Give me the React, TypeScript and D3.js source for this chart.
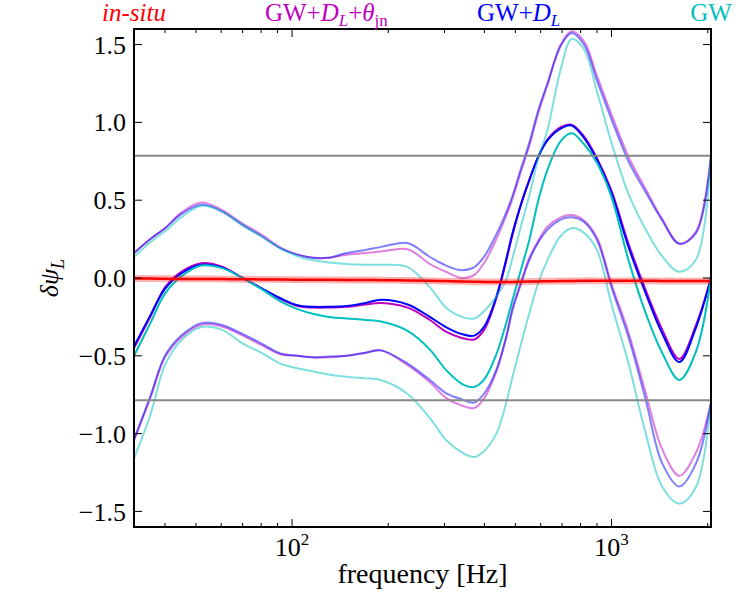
import React from 'react';
import * as d3 from 'd3';

// frequency grid (Hz) shared by every curve
const freq = [32, 36, 40, 45, 52, 60, 70, 80, 92, 104, 116, 130, 148, 170, 190, 230, 270, 303, 340, 372,
  400, 436, 468, 490, 520, 553, 590, 630, 693, 750, 820, 900, 1000, 1130, 1280, 1440, 1630, 1840, 2048];

// medians
const medThetaJN = [-0.45, -0.25, -0.06, 0.04, 0.095, 0.075, 0.0, -0.065, -0.135, -0.18, -0.19, -0.19, -0.185, -0.17, -0.16, -0.19, -0.27, -0.345, -0.385, -0.395,
  -0.33, -0.13, 0.11, 0.28, 0.47, 0.63, 0.78, 0.89, 0.97, 0.985, 0.91, 0.77, 0.56, 0.22, -0.08, -0.33, -0.52, -0.3, 0.0];
const medDL = [-0.44, -0.24, -0.07, 0.03, 0.085, 0.07, 0.0, -0.065, -0.13, -0.175, -0.185, -0.185, -0.18, -0.16, -0.14, -0.17, -0.25, -0.315, -0.36, -0.37,
  -0.31, -0.12, 0.12, 0.29, 0.47, 0.63, 0.78, 0.885, 0.96, 0.98, 0.9, 0.76, 0.545, 0.2, -0.1, -0.355, -0.54, -0.315, 0.0];
const medGW = [-0.5, -0.29, -0.1, 0.01, 0.08, 0.065, 0.0, -0.07, -0.15, -0.2, -0.23, -0.25, -0.26, -0.27, -0.28, -0.34, -0.46, -0.59, -0.68, -0.7,
  -0.65, -0.49, -0.29, -0.14, 0.05, 0.245, 0.5, 0.695, 0.88, 0.93, 0.86, 0.74, 0.52, 0.115, -0.227, -0.48, -0.655, -0.47, 0.0];

// upper bounds
const upThetaJN = [0.16, 0.25, 0.32, 0.42, 0.485, 0.44, 0.35, 0.28, 0.195, 0.15, 0.13, 0.13, 0.15, 0.16, 0.17, 0.185, 0.09, 0.04, 0.0, 0.02,
  0.1, 0.25, 0.4, 0.51, 0.68, 0.85, 1.06, 1.24, 1.5, 1.585, 1.52, 1.3, 1.05, 0.78, 0.57, 0.38, 0.22, 0.3, 0.785];
const upDL = [0.16, 0.25, 0.32, 0.41, 0.47, 0.43, 0.34, 0.27, 0.19, 0.15, 0.13, 0.13, 0.16, 0.18, 0.2, 0.225, 0.135, 0.08, 0.05, 0.07,
  0.14, 0.28, 0.42, 0.53, 0.7, 0.87, 1.08, 1.25, 1.49, 1.575, 1.5, 1.27, 1.02, 0.75, 0.55, 0.37, 0.22, 0.29, 0.785];
const upGW = [0.135, 0.23, 0.3, 0.39, 0.465, 0.43, 0.34, 0.27, 0.19, 0.14, 0.115, 0.1, 0.09, 0.085, 0.085, 0.07, -0.06, -0.19, -0.25, -0.26,
  -0.21, -0.12, -0.01, 0.13, 0.33, 0.53, 0.77, 0.95, 1.34, 1.535, 1.47, 1.2, 0.87, 0.54, 0.31, 0.14, 0.04, 0.12, 0.785];

// lower bounds
const loThetaJN = [-1.04, -0.77, -0.51, -0.38, -0.3, -0.31, -0.37, -0.43, -0.49, -0.5, -0.51, -0.51, -0.5, -0.48, -0.465, -0.56, -0.67, -0.77, -0.82, -0.835,
  -0.77, -0.6, -0.38, -0.19, -0.03, 0.13, 0.24, 0.33, 0.39, 0.405, 0.37, 0.26, -0.04, -0.35, -0.74, -1.1, -1.27, -1.12, -0.8];
const loDL = [-1.04, -0.76, -0.5, -0.37, -0.29, -0.3, -0.36, -0.42, -0.485, -0.5, -0.51, -0.505, -0.5, -0.48, -0.465, -0.55, -0.655, -0.74, -0.78, -0.8,
  -0.74, -0.59, -0.38, -0.205, -0.04, 0.115, 0.23, 0.31, 0.375, 0.39, 0.36, 0.245, -0.06, -0.38, -0.785, -1.19, -1.34, -1.19, -0.8];
const loGW = [-1.16, -0.88, -0.56, -0.4, -0.315, -0.33, -0.42, -0.48, -0.55, -0.58, -0.6, -0.62, -0.635, -0.645, -0.655, -0.745, -0.9, -1.04, -1.12, -1.15,
  -1.11, -1.0, -0.8, -0.635, -0.43, -0.225, -0.03, 0.115, 0.27, 0.32, 0.29, 0.18, -0.17, -0.55, -1.0, -1.34, -1.45, -1.34, -0.8];

// in-situ phase error and its spread
const inSitu = [-0.003, -0.004, -0.005, -0.006, -0.006, -0.007, -0.008, -0.009, -0.01, -0.011, -0.012, -0.012, -0.013, -0.013, -0.014, -0.016, -0.018, -0.02, -0.022, -0.024,
  -0.025, -0.025, -0.025, -0.025, -0.024, -0.023, -0.022, -0.021, -0.02, -0.019, -0.018, -0.018, -0.018, -0.018, -0.018, -0.019, -0.02, -0.02, -0.02];
const inSituSpread = 0.022;

const phaseLimits = [0.785, -0.785];
const yTicks = [-1.5, -1.0, -0.5, 0.0, 0.5, 1.0, 1.5];
const xMajor = [100, 1000];
const xMajorExp = ['2', '3'];
const xMinor = [40, 50, 60, 70, 80, 90, 200, 300, 400, 500, 600, 700, 800, 900, 2000];

const titles = ['in-situ', 'GW+DL+θjn', 'GW+DL', 'GW'];

const FONT = '"Liberation Serif", "Times New Roman", serif';

export default function App() {
  const left = 134, right = 711, top = 29, bottom = 527;
  const x = d3.scaleLog().domain([32, 2048]).range([left, right]);
  const y = d3.scaleLinear().domain([-1.6, 1.6]).range([bottom, top]);

  const line = d3.line<number>()
    .x((_, i) => x(freq[i]))
    .y(d => y(d))
    .curve(d3.curveCatmullRom.alpha(0.5));
  const band = d3.area<number>()
    .x((_, i) => x(freq[i]))
    .y0(d => y(d - inSituSpread))
    .y1(d => y(d + inSituSpread))
    .curve(d3.curveCatmullRom.alpha(0.5));

  const groups = [
    { color: '#bf00bf', med: medThetaJN, up: upThetaJN, lo: loThetaJN },
    { color: '#0000ff', med: medDL, up: upDL, lo: loDL },
    { color: '#00bfbf', med: medGW, up: upGW, lo: loGW },
  ];

  const third = (right - left) / 3;
  const tx = [left, left + third, left + 2 * third, right];

  return (
    <svg width={750} height={600} style={{ position: 'absolute', left: 0, top: 0, background: '#fff' }}
      fontFamily={FONT}>
      <defs>
        <clipPath id="plot">
          <rect x={left} y={top} width={right - left} height={bottom - top} />
        </clipPath>
      </defs>

      <g clipPath="url(#plot)">
        {groups.map((g, k) => (
          <g key={k} fill="none">
            <path d={line(g.up) || ''} stroke={g.color} strokeOpacity={0.5} strokeWidth={2} />
            <path d={line(g.lo) || ''} stroke={g.color} strokeOpacity={0.5} strokeWidth={2} />
            <path d={line(g.med) || ''} stroke={g.color} strokeWidth={2} />
          </g>
        ))}
        {phaseLimits.map(v => (
          <line key={v} x1={left} x2={right} y1={y(v)} y2={y(v)} stroke="#888" strokeWidth={2} />
        ))}
        <path d={band(inSitu) || ''} fill="#ff0000" fillOpacity={0.3} />
        <path d={line(inSitu) || ''} fill="none" stroke="#ff0000" strokeWidth={2.5} />
      </g>

      {/* frame */}
      <rect x={left} y={top} width={right - left} height={bottom - top} fill="none" stroke="#000" strokeWidth={2} />

      {/* y ticks */}
      {yTicks.map(t => (
        <g key={t}>
          <line x1={left} x2={left + 8} y1={y(t)} y2={y(t)} stroke="#000" strokeWidth={1} />
          <line x1={right} x2={right - 8} y1={y(t)} y2={y(t)} stroke="#000" strokeWidth={1} />
          <text x={left - 8} y={y(t)} dy="0.35em" textAnchor="end" fontSize={26}>
            {(t < 0 ? '\u2212' : '') + Math.abs(t).toFixed(1)}
          </text>
        </g>
      ))}

      {/* x ticks */}
      {xMajor.map((t, i) => (
        <g key={t}>
          <line x1={x(t)} x2={x(t)} y1={bottom} y2={bottom - 8} stroke="#000" strokeWidth={1} />
          <line x1={x(t)} x2={x(t)} y1={top} y2={top + 8} stroke="#000" strokeWidth={1} />
          <text x={x(t)} y={556} textAnchor="middle" fontSize={26}>
            10<tspan fontSize={17} dy={-11}>{xMajorExp[i]}</tspan>
          </text>
        </g>
      ))}
      {xMinor.map(t => (
        <g key={t}>
          <line x1={x(t)} x2={x(t)} y1={bottom} y2={bottom - 4} stroke="#000" strokeWidth={1} />
          <line x1={x(t)} x2={x(t)} y1={top} y2={top + 4} stroke="#000" strokeWidth={1} />
        </g>
      ))}

      {/* axis labels */}
      <text x={(left + right) / 2} y={583} textAnchor="middle" fontSize={28}>frequency [Hz]</text>
      <text transform={`translate(58,${y(0)}) rotate(-90)`} textAnchor="middle" fontSize={26} fontStyle="italic">
        δψ<tspan fontSize={18} dy={6}>L</tspan>
      </text>

      {/* titles */}
      <text x={tx[0]} y={21} textAnchor="middle" fontSize={25} fill="#ff0000" fontStyle="italic">{titles[0]}</text>
      <text x={tx[1]} y={21} textAnchor="middle" fontSize={25} fill="#bf00bf">
        GW+<tspan fontStyle="italic">D</tspan><tspan fontSize={17} fontStyle="italic" dy={5}>L</tspan>
        <tspan dy={-5}>+</tspan><tspan fontStyle="italic">θ</tspan><tspan fontSize={17} dy={5}>jn</tspan>
      </text>
      <text x={tx[2]} y={21} textAnchor="middle" fontSize={25} fill="#0000ff">
        GW+<tspan fontStyle="italic">D</tspan><tspan fontSize={17} fontStyle="italic" dy={5}>L</tspan>
      </text>
      <text x={tx[3]} y={21} textAnchor="middle" fontSize={25} fill="#00bfbf">{titles[3]}</text>
    </svg>
  );
}
